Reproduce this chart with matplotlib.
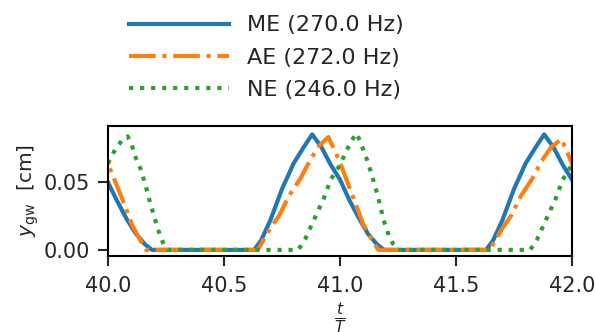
import matplotlib
matplotlib.use("Agg")
import matplotlib.pyplot as plt

# values (t/T, y_gw in cm)
t_me = [39.95, 40.00, 40.04, 40.08, 40.12, 40.16, 40.19, 40.63, 40.66, 40.70, 40.75, 40.80,
        40.84, 40.88, 40.92, 40.96, 41.00, 41.04, 41.08, 41.12, 41.16, 41.19, 41.63, 41.66,
        41.70, 41.75, 41.80, 41.84, 41.88, 41.92, 41.96, 42.00, 42.04]
y_me = [0.065, 0.050, 0.036, 0.023, 0.012, 0.004, 0.000, 0.000, 0.007, 0.022, 0.045, 0.064,
        0.075, 0.0855, 0.076, 0.063, 0.052, 0.037, 0.024, 0.012, 0.004, 0.000, 0.000, 0.007,
        0.022, 0.045, 0.064, 0.075, 0.0855, 0.076, 0.063, 0.052, 0.037]

t_ae = [39.95, 40.00, 40.03, 40.07, 40.10, 40.13, 40.15, 40.165, 40.645, 40.70, 40.74, 40.78,
        40.83, 40.87, 40.91, 40.95, 41.00, 41.03, 41.07, 41.10, 41.13, 41.15, 41.165, 41.645,
        41.70, 41.74, 41.78, 41.83, 41.87, 41.91, 41.955, 42.00, 42.03]
y_ae = [0.083, 0.064, 0.051, 0.034, 0.020, 0.010, 0.004, 0.000, 0.000, 0.016, 0.026, 0.040,
        0.053, 0.066, 0.077, 0.0835, 0.065, 0.051, 0.033, 0.019, 0.010, 0.004, 0.000, 0.000,
        0.016, 0.026, 0.040, 0.053, 0.066, 0.076, 0.082, 0.064, 0.051]

t_ne = [39.95, 40.00, 40.03, 40.06, 40.085, 40.10, 40.12, 40.14, 40.16, 40.18, 40.20, 40.22,
        40.24, 40.255, 40.82, 40.85, 40.89, 40.93, 40.96, 41.00, 41.03, 41.05, 41.072, 41.09,
        41.12, 41.15, 41.17, 41.19, 41.21, 41.23, 41.25, 41.82, 41.85, 41.89, 41.93, 41.96,
        42.00, 42.03]
y_ne = [0.050, 0.064, 0.074, 0.081, 0.084, 0.079, 0.068, 0.060, 0.049, 0.036, 0.024, 0.013,
        0.004, 0.000, 0.000, 0.008, 0.023, 0.038, 0.052, 0.063, 0.074, 0.081, 0.0862, 0.079,
        0.065, 0.048, 0.035, 0.021, 0.011, 0.004, 0.000, 0.000, 0.008, 0.023, 0.038, 0.052,
        0.063, 0.074]

labels = ["ME (270.0 Hz)", "AE (272.0 Hz)", "NE (246.0 Hz)"]
colors = ["#1f77b4", "#ff7f0e", "#2ca02c"]
styles = ["-", "-.", ":"]

plt.rcParams["font.family"] = "DejaVu Sans"
plt.rcParams["mathtext.fontset"] = "dejavusans"
plt.rcParams["text.color"] = "#262626"
plt.rcParams["axes.labelcolor"] = "#262626"
plt.rcParams["xtick.color"] = "#262626"
plt.rcParams["ytick.color"] = "#262626"

fig = plt.figure(figsize=(5.95, 3.32), dpi=100)
ax = fig.add_axes([0.1815, 0.229, 0.7798, 0.3915])

series = [(t_me, y_me), (t_ae, y_ae), (t_ne, y_ne)]
for (t, y), lab, c, ls in zip(series, labels, colors, styles):
    ax.plot(t, y, ls, color=c, lw=3, label=lab)

ax.set_xlim(40, 42)
ax.set_ylim(-0.0045, 0.0917)
ax.set_xticks([40.0, 40.5, 41.0, 41.5, 42.0])
ax.set_yticks([0.00, 0.05])
ax.tick_params(labelsize=15, length=7, width=1.5)
ax.tick_params(axis="x", pad=7.5)
ax.tick_params(axis="y", pad=6)
for s in ax.spines.values():
    s.set_linewidth(1.5)
    s.set_color("black")
ax.set_xlabel(r"$\frac{t}{T}$", fontsize=16, labelpad=4)
ax.set_ylabel(r"$y_{\rm gw}$  [cm]", fontsize=14.5, labelpad=2)

fig.legend(loc="upper left", bbox_to_anchor=(0.183, 1.014), frameon=False,
           fontsize=16, handlelength=4.5, labelspacing=0.55)

fig.savefig("out.png", dpi=100)
